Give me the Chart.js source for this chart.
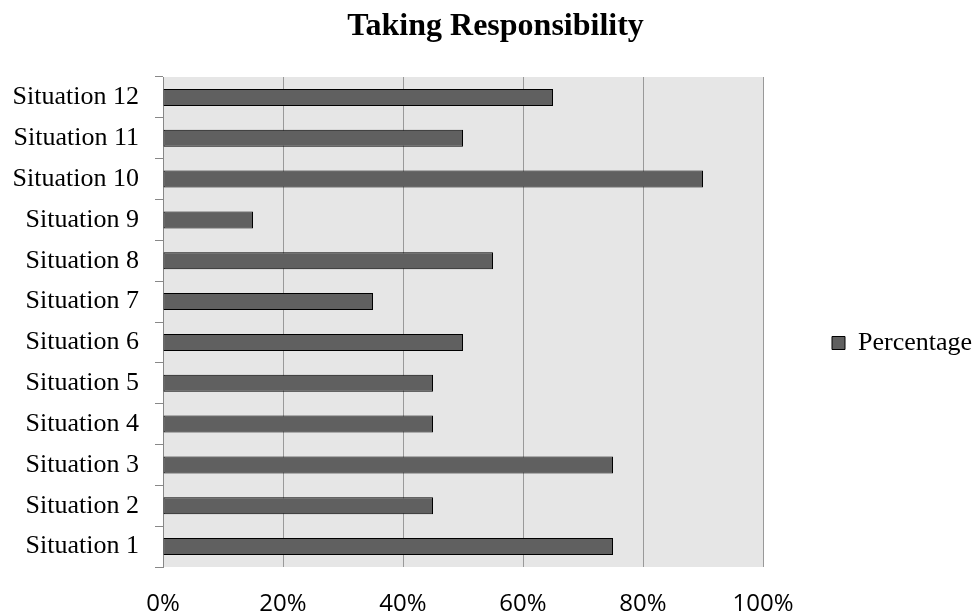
<!DOCTYPE html>
<html>
<head>
<meta charset="utf-8">
<title>Taking Responsibility</title>
<script src="https://cdn.jsdelivr.net/npm/chart.js@4"></script>
<style>
  html, body { margin: 0; padding: 0; background: #ffffff; }
  canvas { display: block; }
</style>
</head>
<body>
<canvas id="chart" width="973" height="612"></canvas>
<script>
// Situations, listed bottom to top
const categories = [
  'Situation 1', 'Situation 2', 'Situation 3', 'Situation 4',
  'Situation 5', 'Situation 6', 'Situation 7', 'Situation 8',
  'Situation 9', 'Situation 10', 'Situation 11', 'Situation 12'
];
// Share of respondents taking responsibility (%)
const percentage = [75, 45, 75, 45, 45, 50, 35, 55, 15, 90, 50, 65];
// Value axis ticks (%)
const xTicks = [0, 20, 40, 60, 80, 100];

const serif = '"Liberation Serif", "Times New Roman", serif';
const sans = '"Open Sans", "Liberation Sans", sans-serif';

// Grey plot-area background
const plotBackground = {
  id: 'plotBackground',
  beforeDraw(chart) {
    const { ctx, chartArea: a } = chart;
    ctx.save();
    ctx.fillStyle = '#e6e6e6';
    ctx.fillRect(a.left, a.top, a.right - a.left, a.bottom - a.top);
    ctx.restore();
  }
};

// Fixed-width legend column on the right, title nudged to the right
const legendColumn = {
  id: 'legendColumn',
  beforeInit(chart) {
    const fit = chart.legend.fit;
    chart.legend.fit = function () {
      fit.call(this);
      this.width = 210;
    };
  },
  afterLayout(chart) {
    const lg = chart.legend;
    lg.left += 59; lg.right += 59;
    lg.top += 37; lg.bottom += 37;
    const tb = chart.titleBlock;
    if (tb) { tb.left += 9; tb.right += 9; }
  }
};

new Chart(document.getElementById('chart'), {
  type: 'bar',
  data: {
    labels: categories,
    datasets: [{
      label: 'Percentage',
      data: percentage,
      backgroundColor: '#606060',
      borderColor: '#000000',
      borderWidth: 1,
      borderSkipped: false,
      categoryPercentage: 1,
      barPercentage: 0.416
    }]
  },
  options: {
    indexAxis: 'y',
    responsive: false,
    animation: false,
    layout: { padding: 0 },
    scales: {
      x: {
        min: 0,
        max: 100,
        afterBuildTicks(scale) {
          scale.ticks = xTicks.map(v => ({ value: v }));
        },
        afterFit(scale) { scale.height = 45; },
        grid: { color: '#999999', lineWidth: 1, drawTicks: false },
        border: { display: false },
        ticks: {
          padding: 23,
          color: '#000000',
          font: { family: sans, size: 24 },
          callback: v => v + '%'
        }
      },
      y: {
        reverse: true,
        afterFit(scale) { scale.width = 163; },
        grid: {
          offset: true,
          drawOnChartArea: false,
          drawTicks: true,
          tickLength: 8,
          color: '#888888'
        },
        border: { display: true, color: '#888888', width: 1 },
        ticks: {
          padding: 16,
          color: '#000000',
          font: { family: serif, size: 26 }
        }
      }
    },
    plugins: {
      title: {
        display: true,
        text: 'Taking Responsibility',
        color: '#000000',
        font: { family: serif, size: 32, weight: 'bold' },
        padding: { top: 8, bottom: 30.6 }
      },
      legend: {
        display: true,
        position: 'right',
        labels: {
          color: '#000000',
          font: { family: serif, size: 26 },
          boxWidth: 13,
          boxHeight: 13,
          padding: 10
        }
      },
      tooltip: { enabled: false }
    }
  },
  plugins: [plotBackground, legendColumn]
});
</script>
</body>
</html>
